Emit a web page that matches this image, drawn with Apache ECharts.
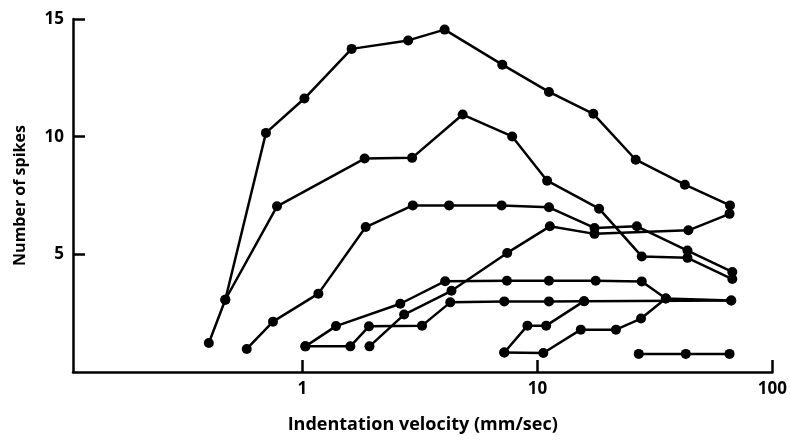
<!DOCTYPE html>
<html>
<head>
<meta charset="utf-8">
<script src="https://cdn.jsdelivr.net/npm/echarts@6/dist/echarts.min.js"></script>
<style>
  html, body { margin: 0; padding: 0; background: #fff; }
  #chart { width: 790px; height: 440px; }
</style>
</head>
<body>
<div id="chart"></div>
<script>
// Indentation velocity (mm/sec) and number of spikes, one pair of arrays per unit
const velA = [0.40, 0.47, 0.70, 1.02, 1.62, 2.82, 4.03, 7.09, 11.2, 17.3, 26.2, 42.4, 66.0];
const spkA = [1.23, 3.07, 10.16, 11.62, 13.73, 14.09, 14.55, 13.06, 11.90, 10.97, 9.02, 7.96, 7.08];

const velB = [0.47, 0.78, 1.84, 2.93, 4.81, 7.81, 11.0, 18.3, 27.8, 43.5, 67.5];
const spkB = [3.07, 7.04, 9.07, 9.10, 10.94, 10.01, 8.13, 6.94, 4.91, 4.85, 3.95];

const velC = [0.58, 0.75, 1.17, 1.86, 2.95, 4.21, 7.04, 11.2, 17.5, 26.5, 43.5, 67.5];
const spkC = [0.98, 2.14, 3.33, 6.16, 7.08, 7.08, 7.08, 7.00, 6.12, 6.19, 5.16, 4.25];

const velD = [1.93, 2.71, 4.31, 7.44, 11.3, 17.5, 43.9, 65.7];
const spkD = [1.09, 2.44, 3.45, 5.06, 6.19, 5.87, 6.02, 6.72];

const velE = [1.03, 1.39, 2.61, 4.05, 7.42, 11.2, 17.7, 27.8, 35.2, 66.8];
const spkE = [1.09, 1.95, 2.90, 3.86, 3.88, 3.88, 3.88, 3.85, 3.12, 3.04];

const velF = [1.03, 1.60, 1.92, 3.23, 4.26, 7.23, 11.2, 15.8, 66.8];
const spkF = [1.09, 1.09, 1.94, 1.97, 2.96, 3.00, 3.00, 3.01, 3.04];

const velG = [7.23, 9.07, 10.9, 15.8];
const spkG = [0.83, 1.97, 1.97, 3.01];

const velH = [7.23, 10.6, 15.3, 21.6, 27.6, 35.2];
const spkH = [0.83, 0.81, 1.80, 1.80, 2.27, 3.12];

const velI = [27.0, 42.8, 65.7];
const spkI = [0.77, 0.77, 0.77];

const xTicks = [1, 10, 100];
const yTicks = [5, 10, 15];
const xMin = 0.1057, xMax = 100;
const yMin = 0, yMax = 15;

const units = [[velA, spkA], [velB, spkB], [velC, spkC], [velD, spkD], [velE, spkE],
               [velF, spkF], [velG, spkG], [velH, spkH], [velI, spkI]];

const FONT = '"Open Sans", sans-serif';
const chart = echarts.init(document.getElementById('chart'), null, { renderer: 'canvas' });

const series = units.map(([xs, ys]) => ({
  type: 'line',
  data: xs.map((x, i) => [x, ys[i]]),
  symbol: 'circle',
  symbolSize: 10,
  showAllSymbol: true,
  lineStyle: { color: '#000', width: 2.5 },
  itemStyle: { color: '#000' },
  emphasis: { disabled: true },
  z: 3
}));

chart.setOption({
  animation: false,
  backgroundColor: '#fff',
  grid: { left: 73, right: 15, top: 19, bottom: 68 },
  xAxis: {
    type: 'log',
    logBase: 10,
    min: xMin,
    max: xMax,
    name: 'Indentation velocity (mm/sec)',
    nameLocation: 'middle',
    nameGap: 44,
    nameTextStyle: { fontFamily: FONT, fontSize: 18, fontWeight: 'bold', color: '#000' },
    axisLine: { show: true, lineStyle: { color: '#000', width: 2.5 } },
    axisTick: { show: true, inside: true, length: 12, customValues: xTicks, lineStyle: { color: '#000', width: 2.5 } },
    axisLabel: { customValues: xTicks, fontFamily: FONT, fontSize: 17, fontWeight: 'bold', color: '#000', margin: 9 },
    splitLine: { show: false },
    minorTick: { show: false }
  },
  yAxis: {
    type: 'value',
    min: yMin,
    max: yMax,
    name: 'Number of spikes',
    nameLocation: 'middle',
    nameGap: 45,
    nameTextStyle: { fontFamily: FONT, fontSize: 16, fontWeight: 'bold', color: '#000' },
    axisLine: { show: true, lineStyle: { color: '#000', width: 2.5 } },
    axisTick: { show: true, inside: true, length: 12, customValues: yTicks, lineStyle: { color: '#000', width: 2.5 } },
    axisLabel: { customValues: yTicks, fontFamily: FONT, fontSize: 17, fontWeight: 'bold', color: '#000', margin: 9 },
    splitLine: { show: false }
  },
  series: series
});
</script>
</body>
</html>
